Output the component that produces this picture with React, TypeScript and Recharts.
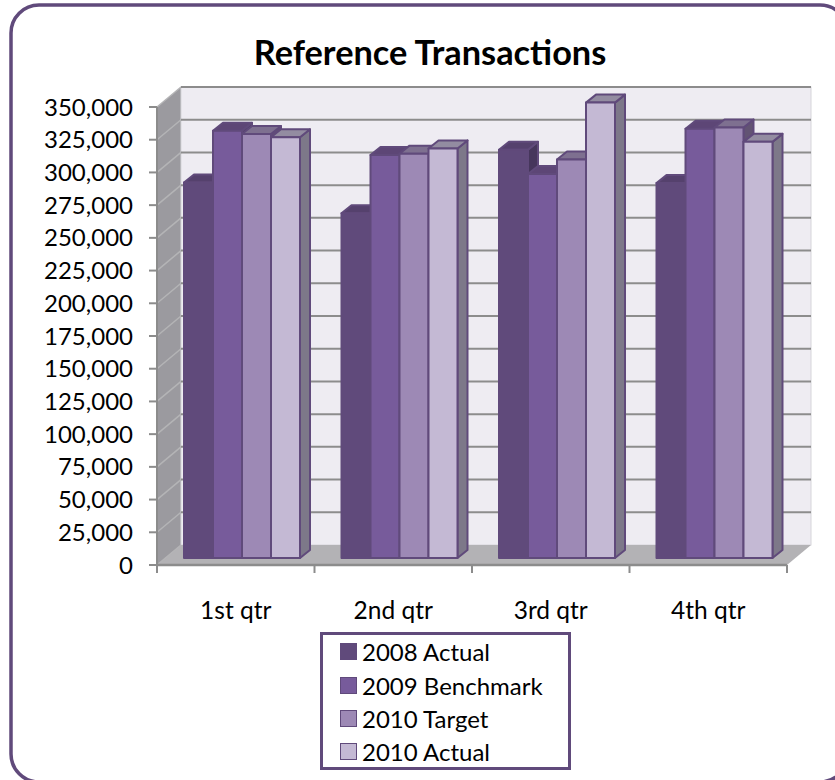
import React from 'react';
import { BarChart, Bar, XAxis, YAxis, Legend, usePlotArea } from 'recharts';

const quarters = ['1st qtr', '2nd qtr', '3rd qtr', '4th qtr'];
const actual2008 = [287000, 263500, 312000, 286500];
const benchmark2009 = [326500, 308000, 293500, 328000];
const target2010 = [324000, 309000, 304500, 329000];
const actual2010 = [321500, 313000, 348000, 318000];
const yTicks = [
  0, 25000, 50000, 75000, 100000, 125000, 150000, 175000, 200000, 225000, 250000, 275000, 300000,
  325000, 350000,
];
const yMax = 350000;

const chartData = quarters.map((q, i) => ({
  quarter: q,
  a2008: actual2008[i],
  b2009: benchmark2009[i],
  t2010: target2010[i],
  a2010: actual2010[i],
}));

const FRAME = '#604a7b';
const GRID = '#8c8c8c';
const FONT = 'Lato, "Open Sans", sans-serif';

// depth of the fake 3D box, and how far the bars sit into it
const wallDx = 24;
const wallDy = 20;
const barShiftX = 6;
const barShiftY = 7;
const depthX = 10;
const depthY = 8;

const seriesList = [
  { key: 'a2008', name: '2008 Actual', front: '#604a7b', top: '#55416d', side: '#46365c' },
  { key: 'b2009', name: '2009 Benchmark', front: '#775b9b', top: '#5d4676', side: '#54416c' },
  { key: 't2010', name: '2010 Target', front: '#9d89b5', top: '#7e7090', side: '#625373' },
  { key: 'a2010', name: '2010 Actual', front: '#c4b9d4', top: '#938ca1', side: '#7d7889' },
];

// frame, title and the walls behind the bars
const Backdrop = () => {
  const plot = usePlotArea();
  if (!plot) return null;
  const { x, y, width, height } = plot;
  const bottom = y + height;
  const right = x + width;
  const gridY = (v: number) => bottom - (v / yMax) * height;
  const bandW = width / quarters.length;
  return (
    <g>
      <rect x={11} y={5} width={837} height={777} rx={28} ry={28} fill="#fff" stroke={FRAME} strokeWidth={3.5} />
      <text x={430} y={65} textAnchor="middle" fontFamily={FONT} fontSize={34.3} fontWeight={700} fill="#000">
        Reference Transactions
      </text>
      <polygon
        points={`${x},${y} ${x + wallDx},${y - wallDy} ${x + wallDx},${bottom - wallDy} ${x},${bottom}`}
        fill="#9b9a9f"
      />
      <rect x={x + wallDx} y={y - wallDy} width={width} height={height} fill="#eeecf2" stroke="#d6d5da" />
      <polygon
        points={`${x},${bottom} ${x + wallDx},${bottom - wallDy} ${right + wallDx},${bottom - wallDy} ${right},${bottom}`}
        fill="#b3b2b5"
      />
      {yTicks.map((t) => (
        <g key={t}>
          <line x1={x} y1={gridY(t)} x2={x + wallDx} y2={gridY(t) - wallDy} stroke="#b4b4b6" strokeWidth={1.5} />
          {t > 0 && (
            <line
              x1={x + wallDx}
              y1={gridY(t) - wallDy}
              x2={right + wallDx}
              y2={gridY(t) - wallDy}
              stroke={GRID}
              strokeWidth={2}
            />
          )}
          <line x1={x - 8} y1={gridY(t)} x2={x} y2={gridY(t)} stroke={GRID} strokeWidth={2} />
        </g>
      ))}
      {quarters.concat('').map((q, i) => (
        <line
          key={i}
          x1={x + i * bandW}
          y1={bottom}
          x2={x + i * bandW}
          y2={bottom + 8}
          stroke={GRID}
          strokeWidth={2}
        />
      ))}
      <line x1={x} y1={y} x2={x} y2={bottom} stroke={GRID} strokeWidth={2} />
      <line x1={x} y1={bottom} x2={right} y2={bottom} stroke={GRID} strokeWidth={2.5} />
    </g>
  );
};

const Box3D = (props: any) => {
  const { x, y, width, height, front, top, side } = props;
  const l = x + barShiftX;
  const t = y - barShiftY;
  const r = l + width;
  const b = t + height;
  const edge = { stroke: FRAME, strokeWidth: 2, strokeLinejoin: 'round' as const };
  return (
    <g>
      <polygon
        points={`${r},${t} ${r + depthX},${t - depthY} ${r + depthX},${b - depthY} ${r},${b}`}
        fill={side}
        {...edge}
      />
      <polygon
        points={`${l},${t} ${l + depthX},${t - depthY} ${r + depthX},${t - depthY} ${r},${t}`}
        fill={top}
        {...edge}
      />
      <rect x={l} y={t} width={width} height={height} fill={front} {...edge} />
    </g>
  );
};

const LegendBox = () => (
  <div
    style={{
      boxSizing: 'border-box',
      width: 251,
      height: 138,
      border: `3.5px solid ${FRAME}`,
      background: '#fff',
      paddingLeft: 17,
      fontFamily: FONT,
      fontSize: 24,
      color: '#000',
    }}
  >
    {seriesList.map((s) => (
      <div key={s.key} style={{ display: 'flex', alignItems: 'center', height: 33.4 }}>
        <span
          style={{
            boxSizing: 'border-box',
            display: 'inline-block',
            width: 17,
            height: 17,
            marginRight: 5,
            background: s.front,
            border: `1.5px solid ${FRAME}`,
          }}
        />
        {s.name}
      </div>
    ))}
  </div>
);

export default function App() {
  return (
    <div style={{ position: 'absolute', left: 0, top: 0, width: 835, height: 780, overflow: 'hidden', background: '#fff' }}>
      <BarChart
        width={835}
        height={780}
        data={chartData}
        margin={{ top: 107, right: 48, bottom: 155, left: 0 }}
        barCategoryGap={21}
        barGap={0}
      >
        <Backdrop />
        <XAxis
          dataKey="quarter"
          height={60}
          axisLine={false}
          tickLine={false}
          tickMargin={31}
          tick={{ fill: '#000', fontSize: 24.5, fontFamily: FONT }}
        />
        <YAxis
          domain={[0, yMax]}
          ticks={yTicks}
          interval={0}
          axisLine={false}
          tickLine={false}
          width={157}
          tickMargin={18}
          tickFormatter={(v: number) => v.toLocaleString('en-US')}
          tick={{ fill: '#000', fontSize: 24, fontFamily: FONT }}
        />
        <Legend
          layout="vertical"
          align="center"
          verticalAlign="middle"
          wrapperStyle={{ left: 320, top: 632, width: 251, height: 138 }}
          content={<LegendBox />}
        />
        {seriesList.map((s) => (
          <Bar
            key={s.key}
            dataKey={s.key}
            name={s.name}
            fill={s.front}
            isAnimationActive={false}
            shape={<Box3D front={s.front} top={s.top} side={s.side} />}
          />
        ))}
      </BarChart>
    </div>
  );
}
